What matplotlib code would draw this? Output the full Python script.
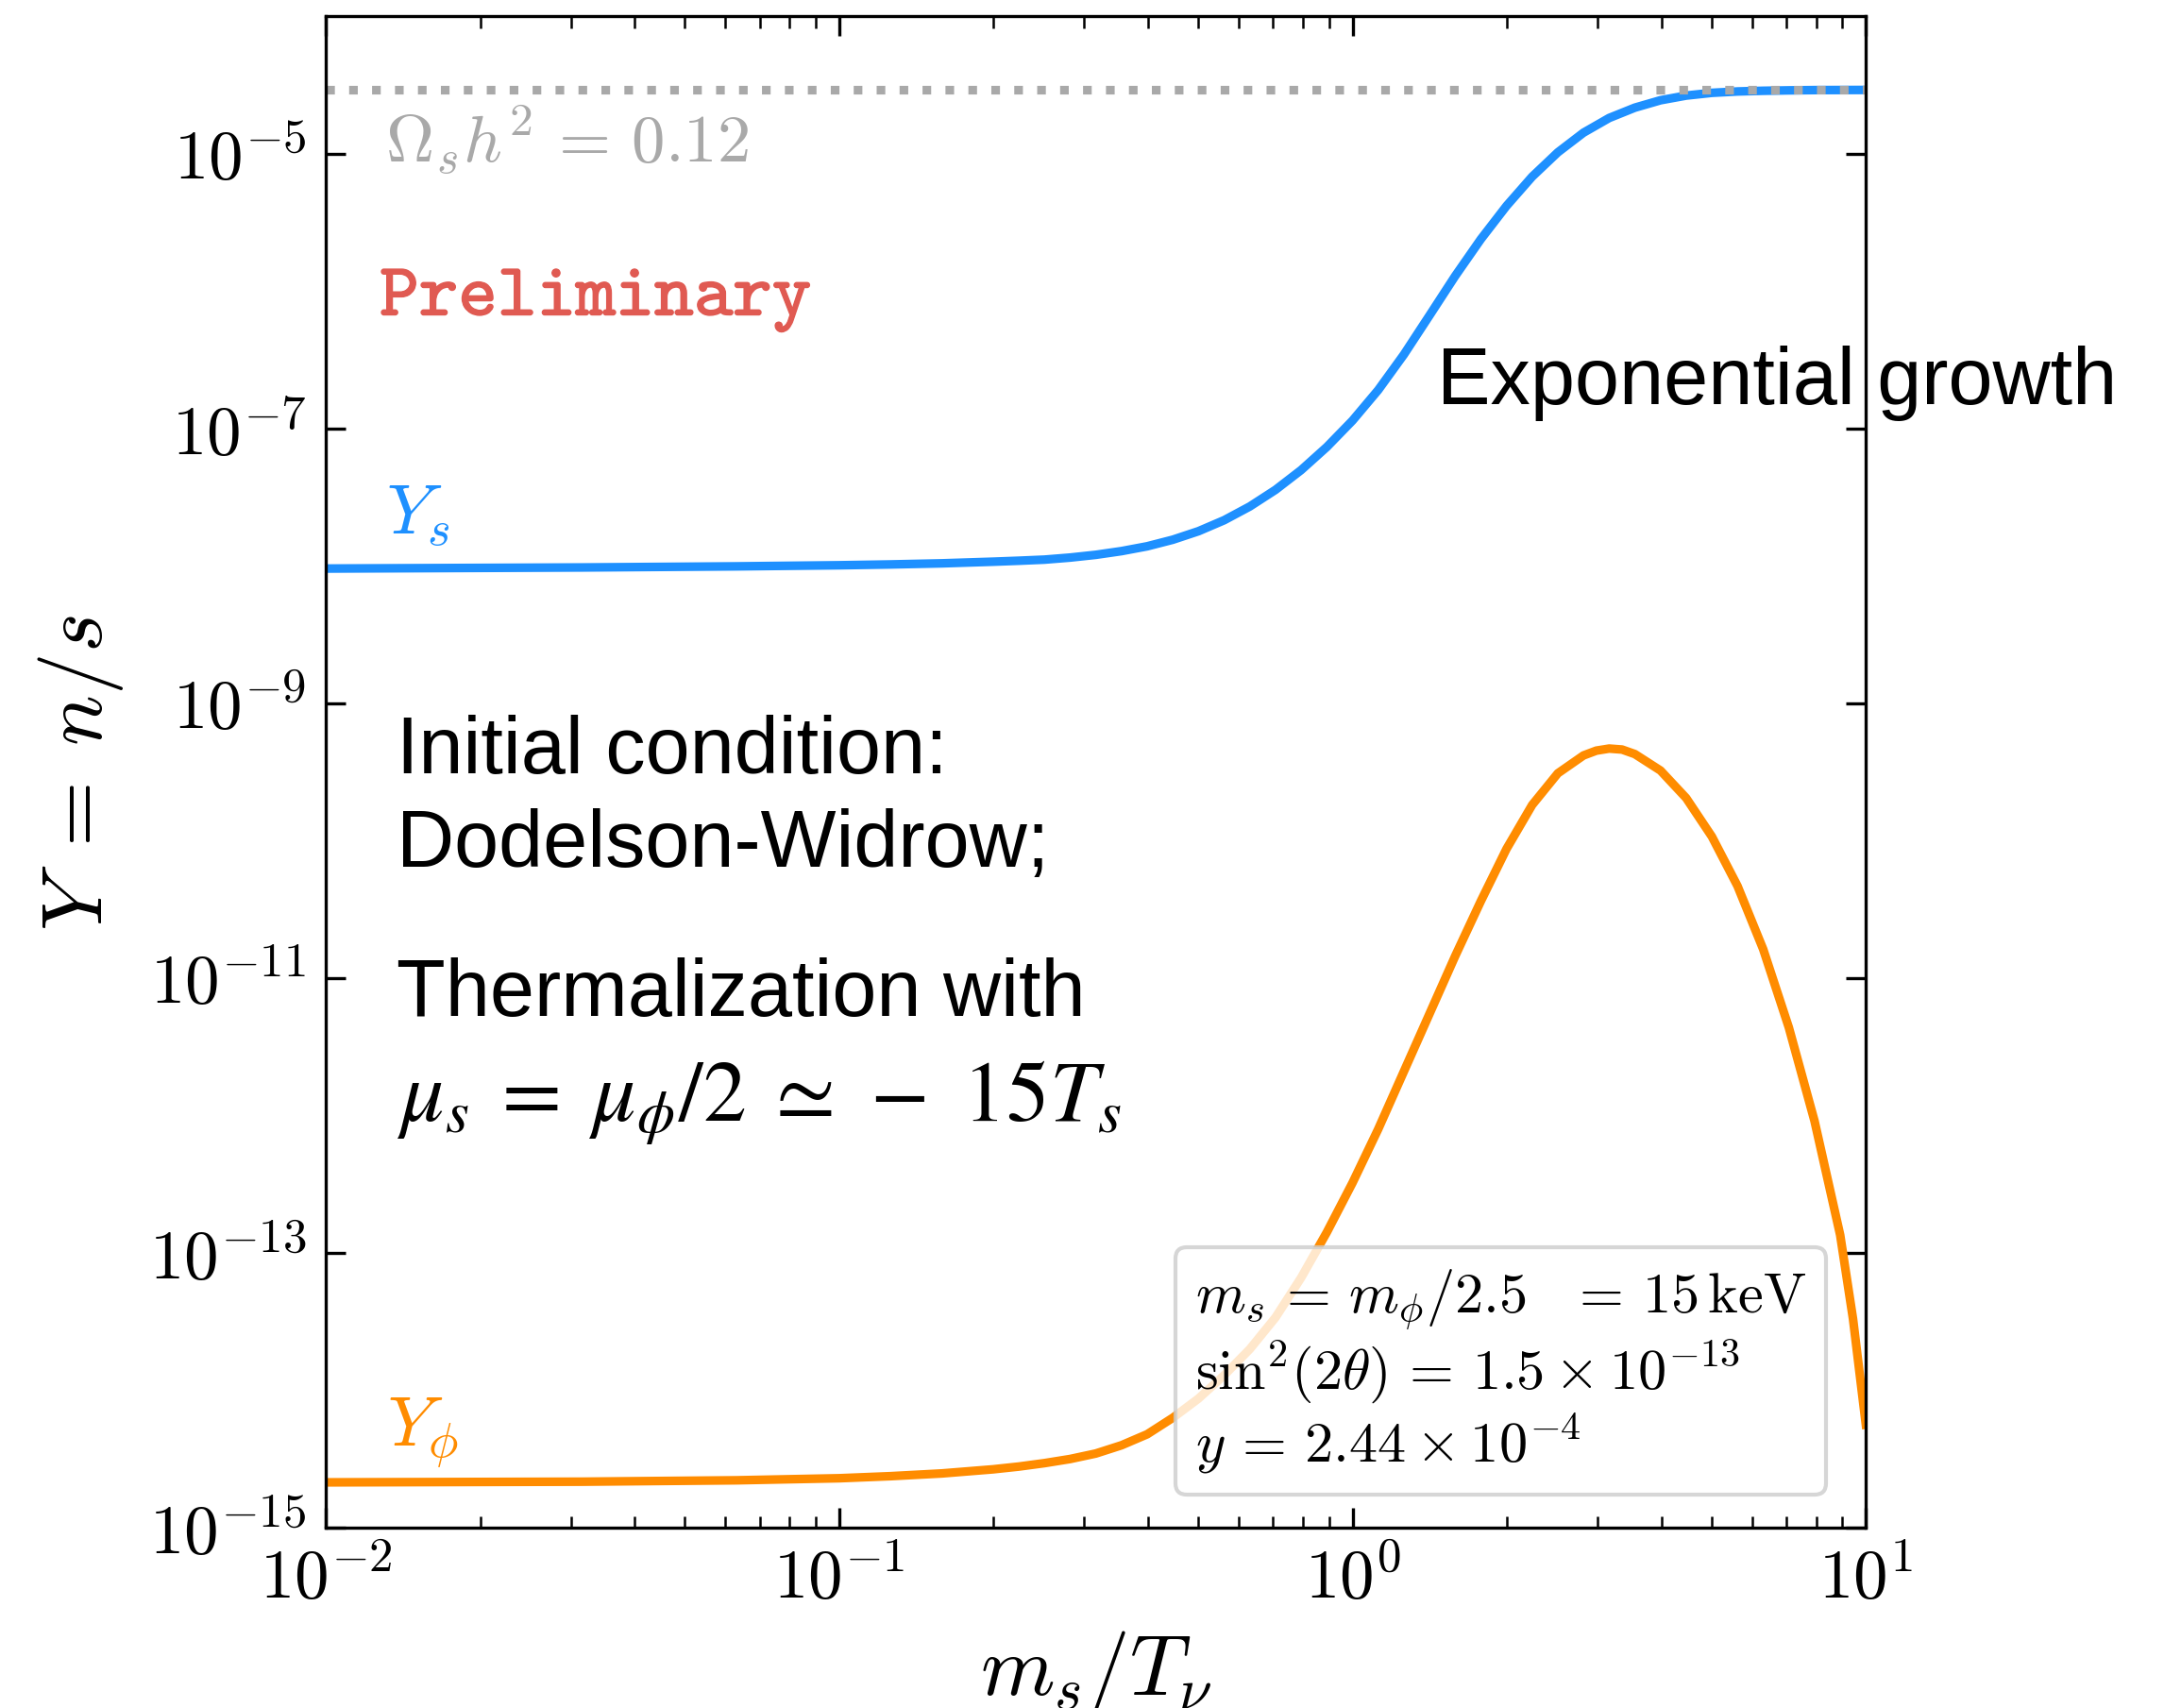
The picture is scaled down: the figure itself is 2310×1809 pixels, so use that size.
import numpy as np
import matplotlib
matplotlib.use('Agg')
import matplotlib.pyplot as plt
import matplotlib.patheffects as pe
from matplotlib.lines import Line2D
from matplotlib.ticker import NullLocator, FuncFormatter

plt.rcParams['mathtext.fontset'] = 'cm'
plt.rcParams['font.family'] = ['Liberation Sans', 'DejaVu Sans']

# log10(m_s/T_nu) and log10(Y) for the sterile neutrino abundance
logx_s = [-2.0, -1.5, -1.2, -1.0, -0.9, -0.8, -0.7, -0.65, -0.6, -0.55,
          -0.5, -0.45, -0.4, -0.35, -0.3, -0.25, -0.2, -0.15, -0.1, -0.05,
          0.0, 0.05, 0.1, 0.15, 0.2, 0.25, 0.3, 0.35, 0.4, 0.45,
          0.5, 0.55, 0.6, 0.65, 0.7, 0.75, 0.8, 0.85, 0.9, 1.0]
logY_s = [-8.02, -8.012, -8.004, -7.996, -7.99, -7.982, -7.97, -7.963, -7.955, -7.94,
          -7.92, -7.893, -7.858, -7.81, -7.748, -7.668, -7.568, -7.447, -7.303, -7.135,
          -6.943, -6.721, -6.463, -6.178, -5.891, -5.623, -5.381, -5.168, -4.991, -4.848,
          -4.741, -4.666, -4.612, -4.578, -4.558, -4.548, -4.543, -4.540, -4.538, -4.537]

# same for the scalar phi
logx_phi = [-2.0, -1.5, -1.2, -1.0, -0.9, -0.8, -0.7, -0.65, -0.6, -0.55,
            -0.5, -0.45, -0.4, -0.35, -0.3, -0.25, -0.2, -0.15, -0.1, -0.05,
            0.0, 0.05, 0.1, 0.15, 0.2, 0.25, 0.3, 0.35, 0.4, 0.45,
            0.475, 0.5, 0.525, 0.55, 0.6, 0.65, 0.7, 0.75, 0.8, 0.85,
            0.9, 0.95, 0.975, 1.0]
logY_phi = [-14.67, -14.665, -14.655, -14.64, -14.625, -14.605, -14.575, -14.555, -14.53, -14.50,
            -14.46, -14.40, -14.32, -14.20, -14.06, -13.89, -13.70, -13.47, -13.18, -12.85,
            -12.49, -12.10, -11.68, -11.26, -10.84, -10.44, -10.06, -9.74, -9.51, -9.38,
            -9.345, -9.33, -9.337, -9.37, -9.49, -9.69, -9.97, -10.33, -10.79, -11.36,
            -12.04, -12.87, -13.48, -14.25]

Y_relic = 2.9e-5   # Omega_s h^2 = 0.12
yticks = [1e-15, 1e-13, 1e-11, 1e-9, 1e-7, 1e-5]

params = [r'$m_s\,=\,m_\phi/2.5\ \ \,=\,15\,\mathrm{keV}$',
          r'$\sin^2\!(2\theta)\,=\,1.5\times10^{-13}$',
          r'$y\,=\,2.44\times10^{-4}$']

fig = plt.figure(figsize=(7.7, 6.0333), dpi=300)
ax = fig.add_axes([0.1494, 0.1055, 0.7061, 0.8845])

ax.plot(10**np.array(logx_s), 10**np.array(logY_s), color='dodgerblue', lw=2.2)
ax.plot(10**np.array(logx_phi), 10**np.array(logY_phi), color='darkorange', lw=2.2)
ax.axhline(Y_relic, color='darkgray', ls=':', lw=2.2)

ax.set_xscale('log')
ax.set_yscale('log')
ax.set_xlim(1e-2, 10)
ax.set_ylim(1e-15, 1e-4)
ax.set_yticks(yticks)
ax.yaxis.set_minor_locator(NullLocator())

pow10 = FuncFormatter(lambda v, pos: r'$10^{%d}$' % round(np.log10(v)))
ax.xaxis.set_major_formatter(pow10)
ax.yaxis.set_major_formatter(pow10)
ax.tick_params(which='both', direction='in', top=True, right=True, labelsize=17.5, pad=5)
ax.tick_params(which='major', length=5)
ax.tick_params(which='minor', length=3)

ax.set_xlabel(r'$m_s/T_\nu$', fontsize=21.5, labelpad=4)
ax.set_ylabel(r'$Y\;=\;n/s$', fontsize=21.5, labelpad=6)

ax.text(0.0386, 0.9038, r'$\Omega_s h^2\,=\,0.12$', transform=ax.transAxes,
        color='darkgray', fontsize=17, va='baseline')
ax.text(0.035, 0.802, r'$\mathtt{Preliminary}$', transform=ax.transAxes,
        color='#e05a52', fontsize=19, va='baseline',
        path_effects=[pe.withStroke(linewidth=0.35, foreground='#e05a52')])
ax.text(0.039, 0.6577, r'$Y_s$', transform=ax.transAxes,
        color='dodgerblue', fontsize=18, va='baseline')
ax.text(0.040, 0.0543, r'$Y_\phi$', transform=ax.transAxes,
        color='darkorange', fontsize=18, va='baseline')

ax.text(0.7216, 0.7439, 'Exponential growth', transform=ax.transAxes,
        fontsize=20.3, va='baseline')
ax.text(0.046, 0.4997, 'Initial condition:', transform=ax.transAxes,
        fontsize=20.3, va='baseline')
ax.text(0.046, 0.4378, 'Dodelson-Widrow;', transform=ax.transAxes,
        fontsize=20.3, va='baseline')
ax.text(0.046, 0.3392, 'Thermalization with', transform=ax.transAxes,
        fontsize=20.3, va='baseline')
ax.text(0.046, 0.2698, r'$\mu_s\;=\;\mu_\phi/2\;\simeq\,-\ 15T_s$', transform=ax.transAxes,
        fontsize=22, va='baseline', math_fontfamily='stix')

handles = [Line2D([], [], ls='none') for _ in params]
ax.legend(handles, params, loc='lower right', bbox_to_anchor=(0.9743, 0.0219),
          borderaxespad=0, handlelength=0, handletextpad=0, fontsize=14.5,
          labelspacing=0.12, borderpad=0.35, framealpha=0.8, edgecolor='0.8')

fig.savefig('out.png', dpi=300)
